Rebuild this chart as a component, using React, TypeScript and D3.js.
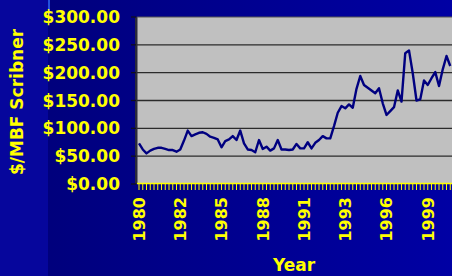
import React, { useEffect } from "react";
import * as d3 from "d3";

// quarterly stumpage price, $/MBF Scribner, 1980 Q1 - 2000 Q4
const years = [
  1980, 1981, 1982, 1983, 1984, 1985, 1986, 1987, 1988, 1989, 1990,
  1991, 1992, 1993, 1994, 1995, 1996, 1997, 1998, 1999, 2000,
];
const quarters = years.flatMap((y) => ["Q1", "Q2", "Q3", "Q4"].map((q) => `${y} ${q}`));

const prices = [
  73, 62, 55, 60, 63, 65, 65, 63, 61, 61, 58, 62, 78, 96, 86, 89, 92, 93, 90, 85,
  83, 80, 66, 77, 80, 86, 79, 96, 73, 62, 61, 57, 79, 63, 67, 60, 64, 79, 62, 62,
  61, 62, 72, 64, 64, 75, 64, 74, 79, 86, 82, 82, 104, 128, 140, 136, 143, 137, 171, 194,
  178, 173, 168, 163, 172, 145, 124, 131, 138, 168, 148, 235, 240, 199, 150, 152, 186, 178, 190, 201,
  176, 206, 230, 212,
];

const tickLabels = ["1980", "1982", "1985", "1988", "1991", "1993", "1996", "1999"];
const tickEvery = 11;
const yTicks = [0, 50, 100, 150, 200, 250, 300];

const W = 452;
const H = 276;
const plot = { left: 139, top: 17, bottom: 184, step: 3.75 };
const FONT = "'DejaVu Sans', Verdana, sans-serif";
const YELLOW = "#ffff00";
const DIGIT = 0.696; // DejaVu Sans Bold digit advance (em)

export default function App() {
  useEffect(() => {
    document.body.style.margin = "0";
  }, []);

  const x = d3
    .scalePoint<string>()
    .domain(quarters)
    .range([plot.left, plot.left + plot.step * (quarters.length - 1)]);

  const y = d3.scaleLinear().domain([0, 300]).range([plot.bottom, plot.top]);

  const line = d3
    .line<number>()
    .x((_, i) => x(quarters[i]) as number)
    .y((d) => y(d));

  const fmt = (v: number) => `$${v.toFixed(2)}`;
  // width of "$ddd.dd" at 17px, so labels stay right-aligned at 120
  const labelWidth = (s: string) => ((s.length - 1) * DIGIT + 0.38) * 17;

  return (
    <svg width={W} height={H} style={{ display: "block" }}>
      <defs>
        <linearGradient id="bg" x1="0" y1="0" x2="1" y2="0">
          <stop offset="0" stopColor="#000078" />
          <stop offset="1" stopColor="#0000a4" />
        </linearGradient>
      </defs>
      <rect width={W} height={H} fill="url(#bg)" />
      <rect width={48} height={H} fill="#06069c" />
      <line x1={49} x2={49} y1={0} y2={14} stroke="#2f6cff" strokeWidth={1.5} />

      {/* plot area */}
      <rect
        x={plot.left - 2}
        y={plot.top}
        width={W - plot.left + 6}
        height={plot.bottom - plot.top}
        fill="#c0c0c0"
      />
      <rect x={plot.left - 4} y={plot.top} width={2.5} height={plot.bottom - plot.top} fill="#2a2a3a" />

      {yTicks.map((t) => {
        const s = fmt(t);
        const w = labelWidth(s);
        return (
          <g key={t}>
            {t > 0 && (
              <line
                x1={plot.left - 2}
                x2={W + 4}
                y1={y(t)}
                y2={y(t)}
                stroke={t === 300 ? "#555" : "#2b2b2b"}
                strokeWidth={t === 300 ? 1 : 1.3}
              />
            )}
            <line x1={plot.left - 8} x2={plot.left - 3} y1={y(t)} y2={y(t)} stroke="#101020" strokeWidth={1.3} />
            <text
              x={120 - w}
              y={y(t)}
              dy="0.36em"
              textLength={w}
              lengthAdjust="spacingAndGlyphs"
              fill={YELLOW}
              fontFamily={FONT}
              fontWeight="bold"
              fontSize={17}
            >
              {s}
            </text>
          </g>
        );
      })}

      {/* x axis */}
      <line x1={plot.left - 2} x2={W + 4} y1={plot.bottom - 0.5} y2={plot.bottom - 0.5} stroke={YELLOW} strokeWidth={1.5} />
      {quarters.map((q) => (
        <line
          key={q}
          x1={x(q)}
          x2={x(q)}
          y1={plot.bottom - 1}
          y2={plot.bottom + 6}
          stroke={YELLOW}
          strokeWidth={1}
        />
      ))}
      {tickLabels.map((lab, k) => {
        const cx = x(quarters[k * tickEvery]) as number;
        return (
          <text
            key={lab}
            transform={`translate(${cx},197) rotate(-90)`}
            textAnchor="end"
            dy="0.36em"
            fill={YELLOW}
            fontFamily={FONT}
            fontWeight="bold"
            fontSize={16}
          >
            {lab}
          </text>
        );
      })}

      <path d={line(prices) ?? ""} fill="none" stroke="#000080" strokeWidth={2.4} strokeLinejoin="round" />

      <text
        x={294}
        y={271}
        textAnchor="middle"
        fill={YELLOW}
        fontFamily={FONT}
        fontWeight="bold"
        fontSize={17}
      >
        Year
      </text>
      <text
        transform="translate(17,102) rotate(-90)"
        textAnchor="middle"
        dy="0.36em"
        fill={YELLOW}
        fontFamily={FONT}
        fontWeight="bold"
        fontSize={17}
      >
        $/MBF Scribner
      </text>
    </svg>
  );
}
